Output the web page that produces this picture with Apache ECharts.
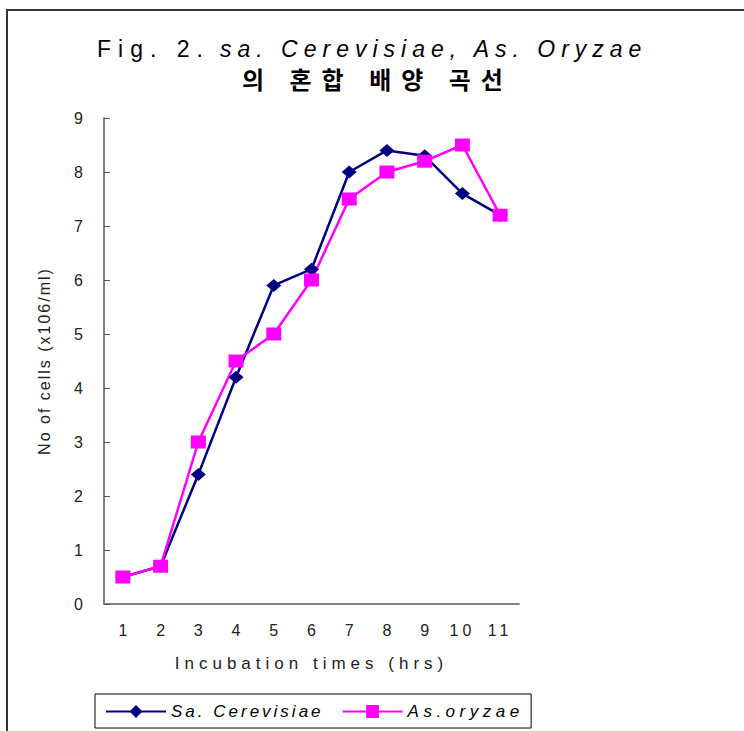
<!DOCTYPE html>
<html>
<head>
<meta charset="utf-8">
<script src="https://cdn.jsdelivr.net/npm/echarts@6/dist/echarts.min.js"></script>
<style>
html,body{margin:0;padding:0;background:#fff;}
#chart{width:744px;height:731px;}
</style>
</head>
<body>
<div id="chart"></div>
<script>
// ---- data ----
const categories = ['1','2','3','4','5','6','7','8','9','10','11'];
const saCerevisiae = [0.5, 0.7, 2.4, 4.2, 5.9, 6.2, 8.0, 8.4, 8.3, 7.6, 7.2];
const asOryzae     = [0.5, 0.7, 3.0, 4.5, 5.0, 6.0, 7.5, 8.0, 8.2, 8.5, 7.2];
const yTicks = {min: 0, max: 9, interval: 1};
const seriesNames = ['Sa. Cerevisiae', 'As.oryzae'];
const titleA = 'Fig. 2.';
const titleB = 'sa. Cerevisiae, As. Oryzae';
const titleC = '의 혼합 배양 곡선';
const xName = 'Incubation times (hrs)';
const yName = 'No of cells (x106/ml)';

const spacing = {};
spacing[titleA] = 7; spacing[titleB] = 6; spacing[titleC] = 10;
spacing[xName] = 5; spacing[yName] = 2;
spacing[seriesNames[0]] = 3; spacing[seriesNames[1]] = 4.5;
spacing['10'] = 4; spacing['11'] = 4;

const chart = echarts.init(document.getElementById('chart'), null, {renderer: 'svg'});
const latin = '"Liberation Sans", Arial, sans-serif';
const option = {
  animation: false,
  backgroundColor: '#fff',
  graphic: [{
    type: 'rect', silent: true,
    shape: {x: 7, y: 10, width: 800, height: 800},
    style: {fill: 'none', stroke: '#333', lineWidth: 2}
  }],
  title: [
    {text: titleA, left: 97, top: 37, padding: 0,
     textStyle: {fontFamily: latin, fontSize: 23, fontWeight: 'normal', color: '#000'}},
    {text: titleB, left: 220, top: 37, padding: 0,
     textStyle: {fontFamily: latin, fontSize: 23, fontWeight: 'normal', fontStyle: 'italic', color: '#000'}},
    {text: titleC, left: 242, top: 66, padding: 0,
     textStyle: {fontFamily: '"Noto Sans CJK KR", sans-serif', fontSize: 24, fontWeight: 'bold', color: '#000'}}
  ],
  legend: {
    left: 95, top: 694,
    padding: [9, 48, 8, 10],
    itemGap: 60,
    itemWidth: 60, itemHeight: 16,
    borderColor: '#000', borderWidth: 1,
    textStyle: {fontFamily: latin, fontSize: 17, fontStyle: 'italic', color: '#000'},
    data: seriesNames
  },
  grid: {left: 104, right: 225, top: 118, bottom: 127, containLabel: false},
  xAxis: {
    type: 'category', data: categories, boundaryGap: true,
    name: xName, nameLocation: 'middle', nameGap: 51,
    nameTextStyle: {fontFamily: latin, fontSize: 17, color: '#222'},
    axisLine: {lineStyle: {color: '#808080', width: 2}},
    axisTick: {inside: true, length: 5, lineStyle: {color: '#555', width: 1}},
    axisLabel: {margin: 18, fontFamily: latin, fontSize: 16, color: '#222'}
  },
  yAxis: {
    type: 'value', min: yTicks.min, max: yTicks.max, interval: yTicks.interval,
    name: yName, nameLocation: 'middle', nameGap: 52,
    nameTextStyle: {fontFamily: latin, fontSize: 16, color: '#222'},
    axisLine: {show: true, lineStyle: {color: '#808080', width: 2}},
    axisTick: {show: true, inside: true, length: 6, lineStyle: {color: '#555', width: 1}},
    splitLine: {show: false},
    axisLabel: {margin: 21, fontFamily: latin, fontSize: 16, color: '#222'}
  },
  series: [
    {name: seriesNames[0], type: 'line', data: saCerevisiae,
     symbol: 'diamond', symbolSize: [15, 13],
     lineStyle: {color: '#000080', width: 2.5},
     itemStyle: {color: '#000080'}},
    {name: seriesNames[1], type: 'line', data: asOryzae,
     symbol: 'rect', symbolSize: [15, 13],
     lineStyle: {color: '#FF00FF', width: 2.5},
     itemStyle: {color: '#FF00FF'}}
  ]
};
chart.setOption(option);

function applySpacing() {
  const texts = document.querySelectorAll('#chart svg text');
  texts.forEach(t => {
    const s = spacing[t.textContent];
    if (s != null) t.setAttribute('letter-spacing', s);
  });
}
try { chart.getZr().flush(); } catch (e) {}
applySpacing();
chart.on('finished', applySpacing);
setTimeout(applySpacing, 50);
requestAnimationFrame(applySpacing);
</script>
</body>
</html>
